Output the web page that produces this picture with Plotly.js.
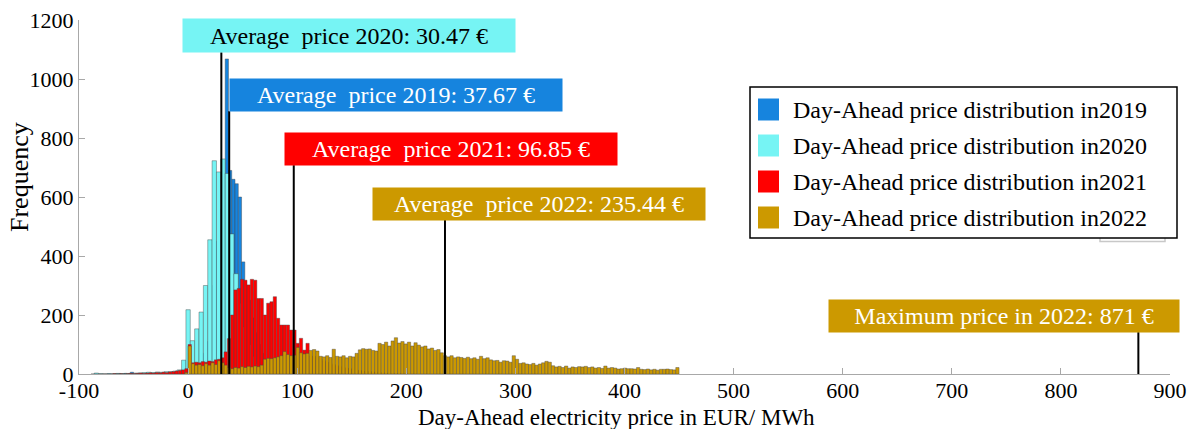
<!DOCTYPE html>
<html>
<head>
<meta charset="utf-8">
<script src="https://cdn.plot.ly/plotly-3.0.1.min.js"></script>
<style>html,body{margin:0;padding:0;background:#fff;}#chart{width:1198px;height:429px;}</style>
</head>
<body>
<div id="chart"></div>
<script>
// ---------- DATA ----------
const years = ["2019", "2020", "2021", "2022"];
const seriesNames = [
  "Day-Ahead price distribution in2019",
  "Day-Ahead price distribution in2020",
  "Day-Ahead price distribution in2021",
  "Day-Ahead price distribution in2022"
];
// histogram bins: first bin edge and bin width (EUR/MWh), then counts per bin
const binStart2019 = -89, binWidth2019 = 3;
const counts2019 = [0,2,0,0,0,1,0,0,1,0,2,0,6,2,0,1,2,3,2,3,4,3,5,5,6,8,10,12,15,20,
  18,22,30,45,70,110,180,300,450,560,640,1068,690,660,645,600,380,300,250,190,
  140,100,70,50,35,25,15,10,6,4,3,2,1,1];
const binStart2020 = -86, binWidth2020 = 4;
const counts2020 = [3,1,0,1,0,2,1,2,2,3,4,5,6,5,7,6,8,8,10,14,47,218,113,153,210,300,455,723,685,729,
  680,475,340,240,160,100,60,35,20,10,5,3,1];
const binStart2021 = -69, binWidth2021 = 3;
const counts2021 = [1,0,1,0,1,2,1,2,3,2,3,4,3,5,4,6,5,7,8,10,12,14,18,100,38,40,38,42,40,44,
  42,48,50,55,75,120,200,285,290,321,318,302,321,318,256,256,200,240,245,262,
  189,166,166,166,149,149,104,121,81,104,61,60,55,50,45,40,36,32,28,25,
  22,20,18,15,13,12,10,9,8,7,6,5,4,3,3,2,2,1,1,1];
const binStart2022 = -3, binWidth2022 = 3;
const counts2022 = [5,95,35,30,32,28,35,30,38,32,45,38,30,22,18,22,20,25,22,26,
  24,27,25,30,50,53,52,55,58,62,76,66,62,64,90,72,68,70,80,83,
  78,60,58,62,56,84,60,58,62,55,60,58,70,82,86,84,85,80,78,104,
  100,108,95,112,123,105,110,102,108,95,106,98,92,95,85,88,80,83,72,62,
  58,62,55,58,56,53,57,52,55,50,60,52,55,48,45,46,40,45,44,40,
  62,50,36,38,34,32,36,30,34,38,43,40,28,24,26,22,27,20,24,22,
  25,24,26,22,24,20,22,19,27,20,22,20,17,18,20,18,18,17,22,16,
  15,17,14,16,13,16,16,17,15,14,22];
const averages = [37.67, 30.47, 96.85, 235.44];   // EUR/MWh
const maxPrice2022 = 871;
const avgLabels = ["Average\u00a0 price 2019: 37.67 €", "Average\u00a0 price 2020: 30.47 €",
                   "Average\u00a0 price 2021: 96.85 €", "Average\u00a0 price 2022: 235.44 €"];
const maxLabel = "Maximum price in 2022: 871 €";
const xTitle = "Day-Ahead electricity price in EUR/ MWh";
const yTitle = "Frequency";
const xTicks = [-100, 0, 100, 200, 300, 400, 500, 600, 700, 800, 900];
const yTicks = [0, 200, 400, 600, 800, 1000, 1200];

// ---------- STYLE ----------
const colors = ["#1684DE", "#76F4F4", "#FF0000", "#CC9900"];
const labelTextColors = ["#ffffff", "#000000", "#ffffff", "#ffffff"];
const FONT = "Liberation Serif, Times New Roman, serif";
const M = {l: 79, r: 28, t: 20, b: 55};
const W = 1198, H = 429;
const PW = W - M.l - M.r, PH = H - M.t - M.b;
const px = v => (v - M.l) / PW;          // pixel -> paper x
const py = v => (H - M.b - v) / PH;      // pixel -> paper y

const binsets = [
  [binStart2019, binWidth2019, counts2019],
  [binStart2020, binWidth2020, counts2020],
  [binStart2021, binWidth2021, counts2021],
  [binStart2022, binWidth2022, counts2022]
];
const traces = binsets.map((b, i) => ({
  type: "bar",
  name: seriesNames[i],
  x: b[2].map((_, k) => b[0] + (k + 0.5) * b[1]),
  y: b[2],
  width: b[1],
  marker: {color: colors[i], line: {color: "rgba(70,70,70,0.7)", width: 0.6}},
  showlegend: false,
  hoverinfo: "x+y"
}));

// label boxes: [center x (data), center y (data), width px, height px, line top (data)]
const boxPos = [
  [190.6, 945.8, 332, 32, 891],
  [147.5, 1147.5, 332, 33, 1091],
  [241.0, 762.7, 332, 32, 708],
  [321.6, 576.3, 332, 32, 522]
];
const maxBox = [747.8, 196.6, 350, 32, 142];

const annotations = [];
const shapes = [];
[1, 0, 2, 3].forEach(i => {
  const p = boxPos[i];
  shapes.push({type: "line", xref: "x", yref: "y", x0: averages[i], x1: averages[i], y0: 0, y1: p[4],
               line: {color: "#000", width: 2}});
  annotations.push({xref: "x", yref: "y", x: p[0], y: p[1], xanchor: "center", yanchor: "middle",
    text: avgLabels[i], showarrow: false, width: p[2], height: p[3], borderpad: 0,
    bgcolor: colors[i], font: {family: FONT, size: 24, color: labelTextColors[i]}});
});
shapes.push({type: "line", xref: "x", yref: "y", x0: maxPrice2022, x1: maxPrice2022, y0: 0, y1: maxBox[4],
             line: {color: "#000", width: 2}});
annotations.push({xref: "x", yref: "y", x: maxBox[0], y: maxBox[1], xanchor: "center", yanchor: "middle",
  text: maxLabel, showarrow: false, width: maxBox[2], height: maxBox[3], borderpad: 0,
  bgcolor: colors[3], font: {family: FONT, size: 24, color: "#ffffff"}});

// custom legend
shapes.push({type: "path", xref: "paper", yref: "paper",
  path: `M${px(1100)},${py(238)} L${px(1100)},${py(241.5)} L${px(1165)},${py(241.5)} L${px(1165)},${py(238)}`,
  line: {color: "#c8c8c8", width: 1.5}});
shapes.push({type: "rect", xref: "paper", yref: "paper", x0: px(750), x1: px(1177), y0: py(238), y1: py(87),
  line: {color: "#000", width: 1.5}, fillcolor: "#ffffff"});
const rowY = [109.5, 145.5, 181.5, 217.5];
seriesNames.forEach((n, i) => {
  shapes.push({type: "rect", xref: "paper", yref: "paper", x0: px(758), x1: px(779),
    y0: py(rowY[i] + 11), y1: py(rowY[i] - 11), line: {width: 0}, fillcolor: colors[i]});
  annotations.push({xref: "paper", yref: "paper", x: px(791), y: py(rowY[i]), xanchor: "left", yanchor: "middle",
    text: n, showarrow: false, font: {family: FONT, size: 24, color: "#000"}});
});

// axis titles
annotations.push({xref: "paper", yref: "paper", x: px(19), y: py(177), xanchor: "center", yanchor: "middle",
  text: yTitle, textangle: -90, showarrow: false, font: {family: FONT, size: 26, color: "#000"}});
annotations.push({xref: "paper", yref: "paper", x: px(616), y: py(431), xanchor: "center", yanchor: "bottom",
  text: xTitle, showarrow: false, borderpad: 0, font: {family: FONT, size: 23, color: "#000"}});

const axisCommon = {
  showline: true, linecolor: "#a8a8a8", linewidth: 1,
  ticks: "inside", ticklen: 6, tickcolor: "#a8a8a8", tickwidth: 1,
  showgrid: false, zeroline: false,
  tickfont: {family: FONT, size: 22, color: "#000"}
};

const layout = {
  width: W, height: H,
  margin: M,
  paper_bgcolor: "#fff", plot_bgcolor: "#fff",
  barmode: "overlay", bargap: 0,
  showlegend: false,
  font: {family: FONT, size: 22, color: "#000"},
  xaxis: Object.assign({}, axisCommon, {
    range: [-100, 900], tickmode: "array", tickvals: xTicks, ticktext: xTicks.map(String),
    ticklabelstandoff: -3
  }),
  yaxis: Object.assign({}, axisCommon, {
    range: [0, 1200], tickmode: "array", tickvals: yTicks, ticktext: yTicks.map(String),
    ticklabelshift: 0
  }),
  shapes: shapes,
  annotations: annotations
};

Plotly.newPlot("chart", traces, layout, {displayModeBar: false, staticPlot: true});
</script>
</body>
</html>
